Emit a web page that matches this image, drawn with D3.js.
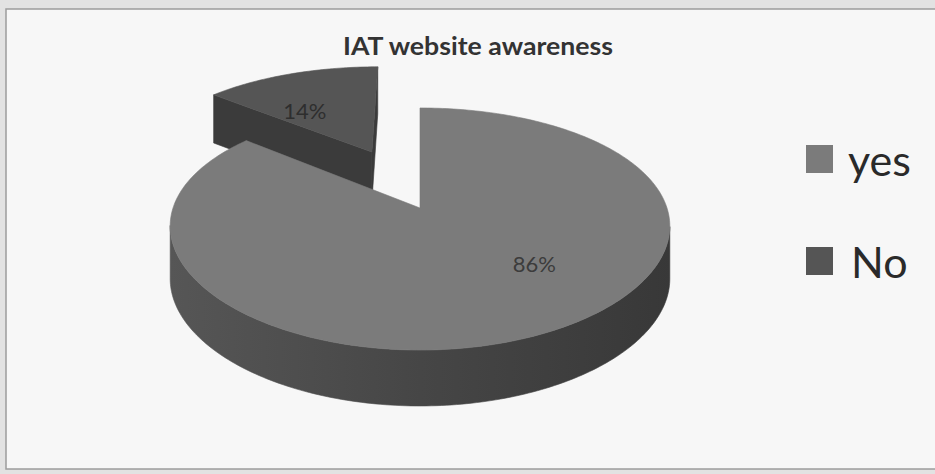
<!DOCTYPE html>
<html>
<head>
<meta charset="utf-8">
<script src="https://cdn.jsdelivr.net/npm/d3@7"></script>
<style>
  html, body { margin: 0; padding: 0; background: #e4e4e4; }
  svg { display: block; }
</style>
</head>
<body>
<svg id="chart" width="935" height="474"></svg>
<script>
// ---- data ----
const title = "IAT website awareness";
const categories = ["yes", "No"];
const values = [86, 14];

// ---- look & layout ----
const topColors = ["#7b7b7b", "#555555"];
const cutColors = ["#444444", "#3b3b3b"];
// 3D view: centre of the pie, radii of the top face, perspective factors,
// slab thickness in px.
const view = { cx: 420, cy: 208, rx: 247, ry: 117.4, px: 0.15, py: 0.1736, hs: 52, ph: 0.07 };
// offset (in pie radii) of the pulled-out slice
const explodeOffset = [{ x: 0, z: 0 }, { x: -0.21, z: 0.52 }];
// label anchor radius and small nudges
const labelRadius = 0.5;
const labelNudge = [[58, -2], [-24, 0]];

const svg = d3.select("#chart");
const W = 935, H = 474;

// page / frame
svg.append("rect").attr("x", 0).attr("y", 0).attr("width", W).attr("height", H).attr("fill", "#e2e2e2");
svg.append("rect").attr("x", 6).attr("y", 9).attr("width", W).attr("height", 460)
  .attr("fill", "#f7f7f7").attr("stroke", "#9c9c9c").attr("stroke-width", 1.5);

const defs = svg.append("defs");
const g1 = defs.append("linearGradient").attr("id", "sideGrad")
  .attr("gradientUnits", "userSpaceOnUse").attr("x1", 170).attr("x2", 672).attr("y1", 0).attr("y2", 0);
g1.append("stop").attr("offset", 0).attr("stop-color", "#565656");
g1.append("stop").attr("offset", 0.5).attr("stop-color", "#464646");
g1.append("stop").attr("offset", 1).attr("stop-color", "#383838");

// perspective-ish projection: X to the right, Z away from viewer, Y up (0 = top face, -1 = bottom)
function project(X, Z, Y) {
  return [
    view.cx + view.rx * X / (1 + view.px * Z),
    view.cy - view.ry * Z / (1 + view.py * Z) - Y * view.hs / (1 + view.ph * Z)
  ];
}
function area(pts) {
  let s = 0;
  for (let i = 0; i < pts.length; i++) {
    const a = pts[i], b = pts[(i + 1) % pts.length];
    s += a[0] * b[1] - b[0] * a[1];
  }
  return s / 2;
}

const pie = d3.pie().sort(null).value(d => d).startAngle(0).endAngle(2 * Math.PI);
const arcs = pie(values);
const total = d3.sum(values);
const fmt = d3.format(".0%");
const line = d3.line();

const slices = arcs.map((a, i) => {
  const off = explodeOffset[i];
  const rim = (t, Y) => project(off.x + Math.sin(t), off.z + Math.cos(t), Y);
  const tip = Y => project(off.x, off.z, Y);
  const n = Math.max(8, Math.ceil((a.endAngle - a.startAngle) / (Math.PI / 180)));
  const ts = d3.range(n + 1).map(k => a.startAngle + (a.endAngle - a.startAngle) * k / n);
  return { a, i, off, rim, tip, ts };
});

// far slices first
slices.sort((p, q) => q.off.z - p.off.z);

const pieG = svg.append("g");
slices.forEach(s => {
  const g = pieG.append("g");
  // outer wall: keep only the front-facing runs
  let run = [];
  const runs = [];
  for (let k = 0; k < s.ts.length - 1; k++) {
    const t1 = s.ts[k], t2 = s.ts[k + 1];
    const quad = [s.rim(t1, 0), s.rim(t2, 0), s.rim(t2, -1), s.rim(t1, -1)];
    if (area(quad) < 0) { run.push(t1, t2); }
    else if (run.length) { runs.push(run); run = []; }
  }
  if (run.length) runs.push(run);
  runs.forEach(r => {
    const ts = Array.from(new Set(r));
    const pts = ts.map(t => s.rim(t, 0)).concat(ts.slice().reverse().map(t => s.rim(t, -1)));
    g.append("path").attr("d", line(pts) + "Z").attr("fill", "url(#sideGrad)")
      .attr("stroke", "url(#sideGrad)").attr("stroke-width", 0.6);
  });
  // radial cut faces
  const c0 = [s.tip(0), s.rim(s.a.startAngle, 0), s.rim(s.a.startAngle, -1), s.tip(-1)];
  const c1 = [s.tip(0), s.tip(-1), s.rim(s.a.endAngle, -1), s.rim(s.a.endAngle, 0)];
  [c0, c1].forEach(c => {
    if (area(c) < 0) {
      g.append("path").attr("d", line(c) + "Z").attr("fill", cutColors[s.i])
        .attr("stroke", cutColors[s.i]).attr("stroke-width", 0.6);
    }
  });
  // top face
  const topPts = [s.tip(0)].concat(s.ts.map(t => s.rim(t, 0)));
  g.append("path").attr("d", line(topPts) + "Z").attr("fill", topColors[s.i])
    .attr("stroke", topColors[s.i]).attr("stroke-width", 0.6);
});

// data labels
slices.forEach(s => {
  const mid = (s.a.startAngle + s.a.endAngle) / 2;
  const p = project(s.off.x + labelRadius * Math.sin(mid), s.off.z + labelRadius * Math.cos(mid), 0);
  svg.append("text")
    .attr("x", p[0] + labelNudge[s.i][0]).attr("y", p[1] + labelNudge[s.i][1])
    .attr("text-anchor", "middle").attr("dominant-baseline", "central")
    .attr("font-family", "Lato, 'Open Sans', sans-serif").attr("font-size", 22)
    .attr("fill", s.i === 0 ? "#3c3c3c" : "#2e2e2e")
    .text(fmt(s.a.value / total));
});

// title
svg.append("text").attr("x", 478).attr("y", 55).attr("text-anchor", "middle")
  .attr("font-family", "Lato, 'Open Sans', sans-serif").attr("font-weight", 700)
  .attr("font-size", 24).attr("fill", "#333")
  .attr("textLength", 270).attr("lengthAdjust", "spacingAndGlyphs")
  .text(title);

// legend
const legend = svg.append("g").attr("transform", "translate(806,145)");
const ly = d3.scalePoint().domain(categories).range([0, 102]);
categories.forEach((c, i) => {
  const row = legend.append("g").attr("transform", `translate(0,${ly(c)})`);
  row.append("rect").attr("width", 27).attr("height", 28).attr("fill", topColors[i]);
  row.append("text").attr("x", 42 + (i === 1 ? 3 : 0)).attr("y", 14)
    .attr("dominant-baseline", "central")
    .attr("font-family", "Lato, 'Open Sans', sans-serif").attr("font-size", 43)
    .attr("fill", "#2a2a2a").text(c);
});
</script>
</body>
</html>
